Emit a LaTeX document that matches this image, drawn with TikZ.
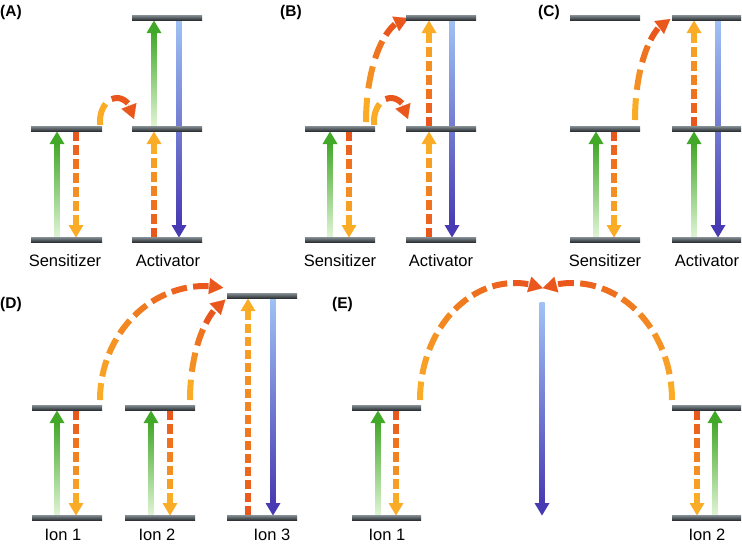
\documentclass[tikz,border=0pt]{standalone}
\usepackage{fontspec}
\setmainfont{Liberation Sans}
\usetikzlibrary{arrows.meta}
\definecolor{orRed}{RGB}{233,87,28}
\definecolor{orYel}{RGB}{250,172,38}
\definecolor{grDark}{RGB}{66,168,40}
\definecolor{grLight}{RGB}{228,247,218}
\definecolor{blLight}{RGB}{160,195,245}
\definecolor{blDark}{RGB}{72,58,178}
\definecolor{lvTop}{RGB}{125,135,140}
\definecolor{lvBot}{RGB}{38,42,46}
% energy level: x from, x to, y
\def\elevel(#1,#2,#3){\shade[top color=lvTop,bottom color=lvBot] (#1,#3-2.5) rectangle (#2,#3+2.5)}
% green absorption, upwards
\def\uppump(#1,#2,#3){\shade[top color=grDark,bottom color=grLight] (#1-2.5,#2) rectangle (#1+2.5,#3+14);
	\fill[grDark] (#1-7.5,#3+15) -- (#1+7.5,#3+15) -- (#1,#3+2.5) -- cycle}
% blue emission, downwards
\def\emitdown(#1,#2,#3){\shade[top color=blLight,bottom color=blDark] (#1-2.5,#2) rectangle (#1+2.5,#3-14);
	\fill[blDark] (#1-7.5,#3-15) -- (#1+7.5,#3-15) -- (#1,#3-2.5) -- cycle}
% dashed straight hop, red to yellow
\def\hopline(#1,#2,#3){\pgfmathsetmacro\hdir{sign(#3-#2)}
	\pgfmathsetmacro\hbeg{#2+(\hdir)*2.5}
	\pgfmathsetmacro\hlen{abs(#3-(\hdir)*15-\hbeg)}
	\pgfmathtruncatemacro\hnum{round((\hlen+3.5)/13)}
	\pgfmathsetmacro\hgap{\hlen/(3.5*\hnum-1)}
	\pgfmathsetmacro\hbase{#3-(\hdir)*15}
	\pgfmathsetmacro\hpeak{#3-(\hdir)*2.5}
	\foreach \k in {1,...,\hnum}{
		\pgfmathtruncatemacro\hmix{100*(\k-1)/(\hnum-1)}
		\draw[line width=5.5pt,color=orYel!\hmix!orRed] (#1,{\hbeg+(\hdir)*3.5*(\k-1)*\hgap}) -- (#1,{\hbeg+(\hdir)*(3.5*(\k-1)+2.5)*\hgap});
	}
	\fill[orYel] (#1-7.5,\hbase) -- (#1+7.5,\hbase) -- (#1,\hpeak) -- cycle}
% dashed transfer arc: (centre)(x radius,y radius)(start:dash end:tip), yellow to red
\def\hoparc(#1,#2)(#3,#4)(#5:#6:#7){\pgfmathsetmacro\tspan{#6-(#5)}
	\pgfmathsetmacro\tlen{abs(\tspan)*pi/180*(#3+#4)/2}
	\pgfmathtruncatemacro\tnum{max(2,round((\tlen+6.5)/23))}
	\pgfmathsetmacro\tgap{\tspan/(3.5*\tnum-1)}
	\foreach \k in {1,...,\tnum}{
		\pgfmathtruncatemacro\tmix{100*(\k-1)/(\tnum-1)}
		\pgfmathsetmacro\ta{#5+3.5*(\k-1)*(\tgap)}
		\pgfmathsetmacro\tb{\ta+2.5*(\tgap)}
		\draw[line width=6pt,color=orRed!\tmix!orYel] plot[domain=\ta:\tb,samples=8] ({#1+#3*cos(\x)},{#2-#4*sin(\x)});
	}
	\draw[orRed,line width=0.01pt,-{Triangle[width=16pt,length=14pt]}] ({#1+#3*cos(#6)},{#2-#4*sin(#6)}) -- ({#1+#3*cos(#7)},{#2-#4*sin(#7)})}

\begin{document}
\begin{tikzpicture}[x=1pt,y=-1pt,
	lbl/.style={font=\fontsize{16.5}{18}\selectfont,inner sep=0pt,anchor=base},
	tag/.style={font=\fontsize{15.5}{17}\selectfont\bfseries,inner sep=0pt,anchor=base west}]
	\useasboundingbox (0,0) rectangle (742,547);
	
	%PANEL A
	\uppump(57,240,129);
	\hopline(76,129,240);
	\uppump(154,129,18);
	\hopline(154,240,129);
	\emitdown(179,18,240);
	\hoparc(117,121)(17,23)(190:50:5);
	\foreach \y in {129,240}{\elevel(31,102,\y);}
	\foreach \y in {18,129,240}{\elevel(132,202,\y);}
	\node[tag] (tagA) at (0,16) {(A)};
	\node[lbl] (sensA) at (65,266) {Sensitizer};
	\node[lbl] (actA) at (168,266) {Activator};
	
	%PANEL B
	\uppump(330,240,129);
	\hopline(349,129,240);
	\hopline(429,240,129);
	\hopline(429,129,18);
	\emitdown(452,18,240);
	\hoparc(391,121)(17,23)(190:50:5);
	\hoparc(410,122)(44,104)(180:110:92);
	\foreach \y in {129,240}{\elevel(305,375,\y);}
	\foreach \y in {18,129,240}{\elevel(406,476,\y);}
	\node[tag] (tagB) at (280,16) {(B)};
	\node[lbl] (sensB) at (340,266) {Sensitizer};
	\node[lbl] (actB) at (441,266) {Activator};
	
	%PANEL C
	\uppump(596,240,129);
	\hopline(614,129,240);
	\uppump(694,240,129);
	\hopline(694,129,18);
	\emitdown(718,18,240);
	\hoparc(676,120)(41,102)(180:116:98);
	\foreach \y in {18,129,240}{\elevel(570,640,\y); \elevel(672,741,\y);}
	\node[tag] (tagC) at (538,16) {(C)};
	\node[lbl] (sensC) at (605,266) {Sensitizer};
	\node[lbl] (actC) at (707,266) {Activator};
	
	%PANEL D
	\uppump(57,518,408);
	\hopline(76,408,518);
	\uppump(151,518,408);
	\hopline(170,408,518);
	\hopline(248,518,296);
	\emitdown(273,296,518);
	\hoparc(205,400)(105,114)(180:88:80);
	\hoparc(240,400)(50,105)(180:122:107);
	\foreach \y in {408,518}{\elevel(32,102,\y); \elevel(125,195,\y);}
	\foreach \y in {296,518}{\elevel(227,297,\y);}
	\node[tag] (tagD) at (0,308) {(D)};
	\node[lbl] (ionDa) at (63,540) {Ion 1};
	\node[lbl] (ionDb) at (157,540) {Ion 2};
	\node[lbl] (ionDc) at (272,540) {Ion 3};
	
	%PANEL E
	\uppump(378,518,408);
	\hopline(396,408,518);
	\hopline(697,408,518);
	\uppump(715,518,408);
	\emitdown(542,302,518);
	\hoparc(515,400)(95,117)(180:82:73);
	\hoparc(572,400)(100,117)(0:98:107);
	\foreach \y in {408,518}{\elevel(352,421,\y); \elevel(672,741,\y);}
	\node[tag] (tagE) at (332,308) {(E)};
	\node[lbl] (ionEa) at (387,540) {Ion 1};
	\node[lbl] (ionEb) at (707,540) {Ion 2};
\end{tikzpicture}
\end{document}
